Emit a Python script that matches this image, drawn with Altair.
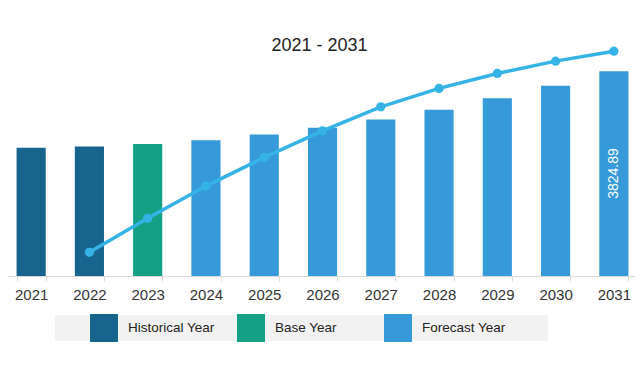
import altair as alt
import pandas as pd

years = ["2021", "2022", "2023", "2024", "2025", "2026", "2027", "2028", "2029", "2030", "2031"]
market = [2394, 2420, 2463, 2537, 2644, 2767, 2924, 3103, 3321, 3551, 3824.89]
types = ["Historical Year", "Historical Year", "Base Year"] + ["Forecast Year"] * 8

line_years = ["2022", "2023", "2024", "2025", "2026", "2027", "2028", "2029", "2030", "2031"]
line_vals = [442, 1077, 1679, 2215, 2711, 3159, 3503, 3782, 4012, 4198]

title_text = ["2021 - 2031"]

type_order = ["Historical Year", "Base Year", "Forecast Year"]
type_colors = ["#17648F", "#13A085", "#3599DA"]

FONT = "Liberation Sans"

bars_df = pd.DataFrame({"year": years, "value": market, "type": types})
line_df = pd.DataFrame({"year": line_years, "value": line_vals})
label_df = bars_df[bars_df["year"] == "2031"].copy()
label_df["half"] = label_df["value"] / 2
label_df["txt"] = label_df["value"].map(lambda v: f"{v:.2f}")
title_df = pd.DataFrame({"t": title_text})

x_enc = alt.X(
    "year:N",
    title=None,
    sort=years,
    scale=alt.Scale(paddingInner=0.5, paddingOuter=0.25),
    axis=alt.Axis(
        labelAngle=0, labelFontSize=15, labelColor="#333333", labelFont=FONT,
        domainColor="#d9d9d9", tickColor="#d9d9d9", tickSize=5, labelPadding=6,
        tickBand="extent", grid=False,
    ),
)
y_scale = alt.Scale(domain=[0, 4500], nice=False)
y_axis = alt.Axis(
    values=list(range(0, 4501, 500)), labels=False, title=None, grid=False,
    domainColor="#d9d9d9", tickColor="#d9d9d9", tickSize=3,
)

bg = alt.Chart(pd.DataFrame({"k": [0]})).mark_rect(color="#f2f2f2").encode(
    x=alt.value(53), x2=alt.value(546), y=alt.value(280), y2=alt.value(306)
)

title = alt.Chart(title_df).mark_text(
    fontSize=18, font=FONT, color="#222222", align="center", baseline="middle"
).encode(x=alt.value(317.5), y=alt.value(11), text="t:N")

bars = alt.Chart(bars_df).mark_bar().encode(
    x=x_enc,
    y=alt.Y("value:Q", scale=y_scale, axis=y_axis),
    color=alt.Color(
        "type:N",
        scale=alt.Scale(domain=type_order, range=type_colors),
        legend=alt.Legend(
            title=None, orient="none", legendX=88, legendY=279, direction="horizontal",
            symbolType="square", symbolSize=784, symbolStrokeWidth=0, symbolOpacity=1,
            labelFontSize=13.5, labelColor="#222222", labelFont=FONT, labelOffset=10,
            columnPadding=22, gridAlign="all", padding=0,
        ),
    ),
)

line = alt.Chart(line_df).mark_line(color="#36B3E6", strokeWidth=3.5).encode(
    x=alt.X("year:N", sort=years), y=alt.Y("value:Q", scale=y_scale, axis=y_axis)
)
pts = alt.Chart(line_df).mark_point(filled=True, color="#36B3E6", size=85, opacity=1).encode(
    x=alt.X("year:N", sort=years), y=alt.Y("value:Q", scale=y_scale, axis=y_axis)
)

label = alt.Chart(label_df).mark_text(
    angle=270, color="white", fontSize=14, font=FONT, baseline="middle", align="center"
).encode(
    x=alt.X("year:N", sort=years), y=alt.Y("half:Q", scale=y_scale, axis=y_axis), text="txt:N"
)

chart = alt.layer(bg, bars, line, pts, label, title).properties(
    width=641,
    height=241,
    autosize=alt.AutoSizeParams(type="none"),
    padding={"left": -6, "top": 27, "right": -8, "bottom": 80},
).configure(background="white").configure_view(stroke=None)

chart.save("out.html", embed_options={"renderer": "svg", "actions": False})
